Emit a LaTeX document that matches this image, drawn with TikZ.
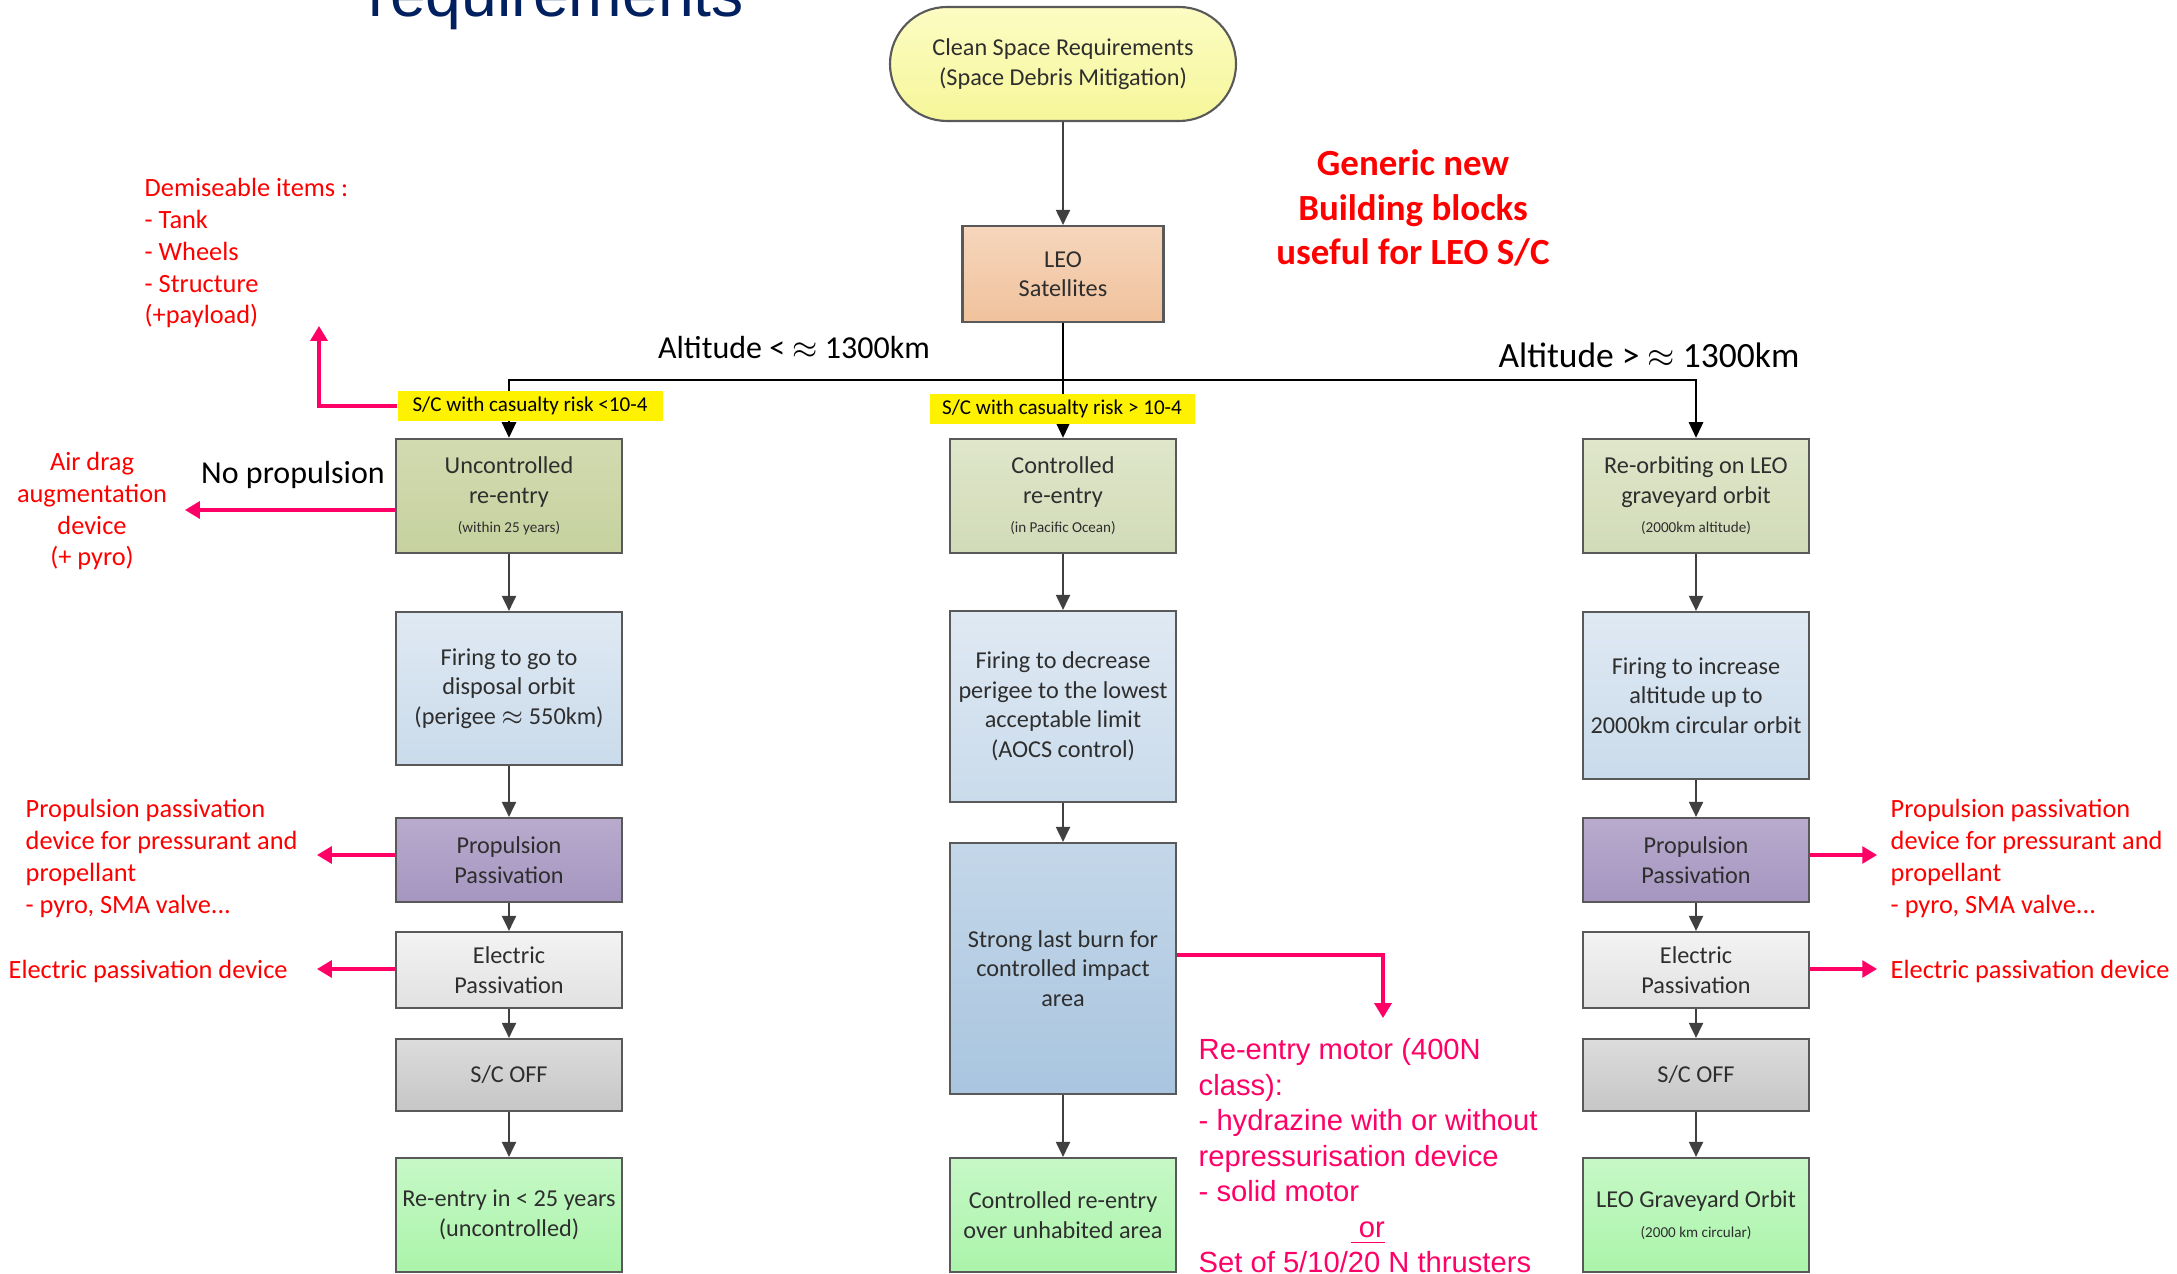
\documentclass[tikz,border=0pt]{standalone}
\usepackage{fontspec}
\setmainfont{Carlito}
\newfontfamily\arialfont{Liberation Sans}
\usetikzlibrary{arrows.meta}
\definecolor{boxline}{HTML}{595959}
\definecolor{flowgray}{HTML}{404040}
\definecolor{boxtext}{HTML}{2E2E2E}
\definecolor{notered}{HTML}{FF0000}
\definecolor{motorpink}{HTML}{FF0066}
\definecolor{titlenavy}{HTML}{002060}
\definecolor{reqtop}{HTML}{FCFCC4}
\definecolor{reqbot}{HTML}{F6F69A}
\definecolor{leotop}{HTML}{F6D6BC}
\definecolor{leobot}{HTML}{F0C29C}
\definecolor{unctop}{HTML}{D2DBB0}
\definecolor{uncbot}{HTML}{C6D19F}
\definecolor{ctrltop}{HTML}{DFE6CA}
\definecolor{ctrlbot}{HTML}{D2DBB8}
\definecolor{firetop}{HTML}{DFE9F3}
\definecolor{firebot}{HTML}{CADBEB}
\definecolor{burntop}{HTML}{C4D7E9}
\definecolor{burnbot}{HTML}{A9C5DF}
\definecolor{proptop}{HTML}{B8ABCD}
\definecolor{propbot}{HTML}{A596C0}
\definecolor{electop}{HTML}{F3F3F3}
\definecolor{elecbot}{HTML}{E1E1E1}
\definecolor{offtop}{HTML}{DCDCDC}
\definecolor{offbot}{HTML}{C6C6C6}
\definecolor{endtop}{HTML}{C6F8C6}
\definecolor{endbot}{HTML}{ABF4AB}
\newcommand{\subnote}[1]{{\fontsize{4.3}{5.5}\selectfont #1}}

\begin{document}
\begin{tikzpicture}[
  box/.style={draw=boxline, line width=0.6pt, minimum width=2.26cm, inner sep=1pt, align=center, text=boxtext, font=\fontsize{6.9}{8.4}\selectfont},
  reentrybox/.style={box, minimum height=1.14cm, top color=ctrltop, bottom color=ctrlbot},
  firebox/.style={box, top color=firetop, bottom color=firebot},
  propbox/.style={box, minimum height=0.84cm, top color=proptop, bottom color=propbot},
  elecbox/.style={box, minimum height=0.76cm, top color=electop, bottom color=elecbot},
  offbox/.style={box, minimum height=0.72cm, top color=offtop, bottom color=offbot},
  endbox/.style={box, minimum height=1.14cm, top color=endtop, bottom color=endbot},
  flow/.style={flowgray, line width=0.6pt, -{Triangle[width=4pt,length=4.3pt]}},
  branch/.style={black, line width=0.8pt, -{Triangle[width=4pt,length=4.5pt]}},
  pointer/.style={motorpink, line width=0.9pt, -{Triangle[width=4.8pt,length=4.2pt]}},
  note/.style={notered, inner sep=0pt, font=\fontsize{7.5}{9.1}\selectfont},
  risk/.style={fill=yellow, inner sep=0pt, minimum width=2.65cm, minimum height=0.30cm, font=\fontsize{6}{7}\selectfont},
  altlabel/.style={inner sep=0pt, font=\fontsize{9.1}{11}\selectfont}
]
  % Page
  \useasboundingbox (0,0) rectangle (21.77,-12.74);
  \clip (0,0) rectangle (21.77,-12.74);
  \fill[white] (0,0) rectangle (21.77,-12.74);

  % Slide title (cut at the top)
  \node[anchor=base west, inner sep=0pt, text=titlenavy, font=\arialfont\fontsize{18.3}{22}\selectfont] (title) at (3.68,-0.17) {requirements};

  % Start and LEO
  \node[box, rounded corners=0.57cm, minimum width=3.46cm, minimum height=1.14cm, top color=reqtop, bottom color=reqbot] (req) at (10.63,-0.64) {Clean Space Requirements\\(Space Debris Mitigation)};
  \node[box, minimum width=2.01cm, minimum height=0.96cm, top color=leotop, bottom color=leobot] (leo) at (10.63,-2.74) {LEO\\Satellites};
  \node[notered, align=center, font=\bfseries\fontsize{10.5}{12.6}\selectfont] (generic) at (14.13,-2.08) {Generic new\\Building blocks\\useful for LEO S/C};

  % Left column
  \node[reentrybox, top color=unctop, bottom color=uncbot] (unctrl) at (5.09,-4.96) {Uncontrolled\\re-entry\\\subnote{(within 25 years)}};
  \node[firebox, minimum height=1.53cm] (fireL) at (5.09,-6.885) {Firing to go to\\disposal orbit\\(perigee $\approx$ 550km)};
  \node[propbox] (propL) at (5.09,-8.60) {Propulsion\\Passivation};
  \node[elecbox] (elecL) at (5.09,-9.70) {Electric\\Passivation};
  \node[offbox] (offL) at (5.09,-10.75) {S/C OFF};
  \node[endbox] (endL) at (5.09,-12.15) {Re-entry in < 25 years\\(uncontrolled)};

  % Middle column
  \node[reentrybox] (ctrl) at (10.63,-4.96) {Controlled\\re-entry\\\subnote{(in Pacific Ocean)}};
  \node[firebox, minimum height=1.91cm] (fireM) at (10.63,-7.065) {Firing to decrease\\perigee to the lowest\\acceptable limit\\(AOCS control)};
  \node[box, minimum height=2.51cm, top color=burntop, bottom color=burnbot] (burnM) at (10.63,-9.685) {Strong last burn for\\controlled impact\\area};
  \node[endbox] (endM) at (10.63,-12.15) {Controlled re-entry\\over unhabited area};

  % Right column
  \node[reentrybox] (reorb) at (16.96,-4.96) {Re-orbiting on LEO\\graveyard orbit\\\subnote{(2000km altitude)}};
  \node[firebox, minimum height=1.67cm] (fireR) at (16.96,-6.955) {Firing to increase\\altitude up to\\2000km circular orbit};
  \node[propbox] (propR) at (16.96,-8.60) {Propulsion\\Passivation};
  \node[elecbox] (elecR) at (16.96,-9.70) {Electric\\Passivation};
  \node[offbox] (offR) at (16.96,-10.75) {S/C OFF};
  \node[endbox] (endR) at (16.96,-12.15) {LEO Graveyard Orbit\\\subnote{(2000 km circular)}};

  % Branching
  \coordinate (fork) at (10.63,-3.80);
  \draw[flow] (req) -- (leo);
  \draw[branch] (leo) -- (ctrl);
  \draw[branch] (fork) -| (unctrl.north);
  \draw[branch] (fork) -| (reorb.north);
  \node[altlabel] (altlow) at (7.94,-3.48) {Altitude < $\approx$ 1300km};
  \node[altlabel, font=\fontsize{10.1}{12}\selectfont] (althigh) at (16.49,-3.55) {Altitude > $\approx$ 1300km};
  \node[risk] (riskL) at (5.30,-4.06) {S/C with casualty risk <10-4};
  \node[risk] (riskM) at (10.62,-4.09) {S/C with casualty risk > 10-4};

  % Column flows
  \foreach \from/\to in {unctrl/fireL, fireL/propL, propL/elecL, elecL/offL, offL/endL,
    ctrl/fireM, fireM/burnM, burnM/endM,
    reorb/fireR, fireR/propR, propR/elecR, elecR/offR, offR/endR}
    \draw[flow] (\from) -- (\to);

  % Notes on the left
  \node[note, anchor=west, align=left] (demise) at (1.44,-2.53) {Demiseable items :\\- Tank\\- Wheels\\- Structure\\(+payload)};
  \node[altlabel] (noprop) at (2.93,-4.75) {No propulsion};
  \node[note, align=center] (airdrag) at (0.92,-5.11) {Air drag\\augmentation\\device\\(+ pyro)};
  \node[note, anchor=west, align=left] (propnoteL) at (0.25,-8.58) {Propulsion passivation\\device for pressurant and\\propellant\\- pyro, SMA valve...};
  \node[note, anchor=west] (elecnoteL) at (0.08,-9.71) {Electric passivation device};

  % Notes on the right
  \node[note, anchor=west, align=left] (propnoteR) at (18.90,-8.58) {Propulsion passivation\\device for pressurant and\\propellant\\- pyro, SMA valve...};
  \node[note, anchor=west] (elecnoteR) at (18.90,-9.71) {Electric passivation device};
  \node[motorpink, anchor=north west, inner sep=0pt, align=left, font=\arialfont\fontsize{8.3}{10.1}\selectfont] (motor) at (11.98,-10.38) {Re-entry motor (400N\\class):\\- hydrazine with or without\\repressurisation device\\- solid motor\\\hspace*{1.52cm}\underline{\ or}\\Set of 5/10/20 N thrusters};

  % Pointers
  \coordinate (demiseTip) at (3.19,-3.26);
  \coordinate (dragTip) at (1.85,-5.10);
  \coordinate (propTipL) at (3.17,-8.55);
  \coordinate (elecTipL) at (3.17,-9.69);
  \coordinate (propTipR) at (18.77,-8.55);
  \coordinate (elecTipR) at (18.77,-9.69);
  \coordinate (motorTip) at (13.83,-10.18);
  \draw[pointer] (riskL.west) -| (demiseTip);
  \draw[pointer] (unctrl.west |- dragTip) -- (dragTip);
  \draw[pointer] (propL.west |- propTipL) -- (propTipL);
  \draw[pointer] (elecL.west |- elecTipL) -- (elecTipL);
  \draw[pointer] (propR.east |- propTipR) -- (propTipR);
  \draw[pointer] (elecR.east |- elecTipR) -- (elecTipR);
  \draw[pointer] ([yshift=0.135cm]burnM.east) -| (motorTip);
\end{tikzpicture}
\end{document}
